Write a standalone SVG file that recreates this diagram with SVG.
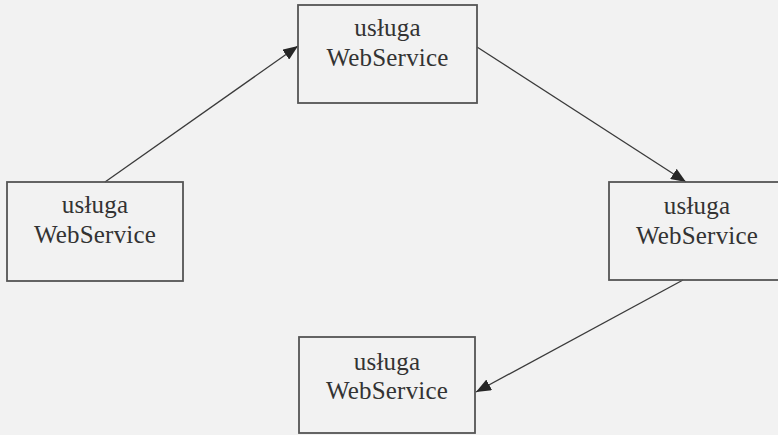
<svg xmlns="http://www.w3.org/2000/svg" width="778" height="435" viewBox="0 0 778 435">
  <style>
    .box { fill: none; stroke: #555; stroke-width: 1.8; }
    .lbl { font-family: "Liberation Serif", "Times New Roman", serif; font-size: 25px; fill: #333; text-anchor: middle; letter-spacing: 0.2px; }
    .edge { stroke: #3a3a3a; stroke-width: 1.3; fill: none; marker-end: url(#tri); }
  </style>
  <defs>
    <!-- solid triangular arrowhead, tip on the end point -->
    <marker id="tri" viewBox="0 0 15 12" refX="15" refY="6" markerWidth="15" markerHeight="12" markerUnits="userSpaceOnUse" orient="auto">
      <path d="M0,0 L15,6 L0,12 z" fill="#262626"/>
    </marker>
  </defs>

  <rect x="0" y="0" width="778" height="435" fill="#f2f2f2"/>

  <!-- connectors -->
  <g id="connectors">
    <line class="edge" x1="105" y1="182" x2="298" y2="46"/>
    <line class="edge" x1="477" y1="47" x2="686" y2="182"/>
    <line class="edge" x1="683" y1="280" x2="476" y2="392"/>
  </g>

  <!-- service nodes -->
  <g id="node-top">
    <rect class="box" x="298" y="5" width="179" height="98"/>
    <text class="lbl" x="387.5" y="36">usługa</text>
    <text class="lbl" x="387.5" y="66">WebService</text>
  </g>
  <g id="node-left">
    <rect class="box" x="7" y="182" width="176" height="99"/>
    <text class="lbl" x="95" y="213">usługa</text>
    <text class="lbl" x="95" y="243">WebService</text>
  </g>
  <g id="node-right">
    <rect class="box" x="609" y="182" width="178" height="98"/>
    <text class="lbl" x="697" y="214">usługa</text>
    <text class="lbl" x="697" y="244">WebService</text>
  </g>
  <g id="node-bottom">
    <rect class="box" x="299" y="337" width="176" height="96"/>
    <text class="lbl" x="387" y="370">usługa</text>
    <text class="lbl" x="387" y="399">WebService</text>
  </g>
</svg>
